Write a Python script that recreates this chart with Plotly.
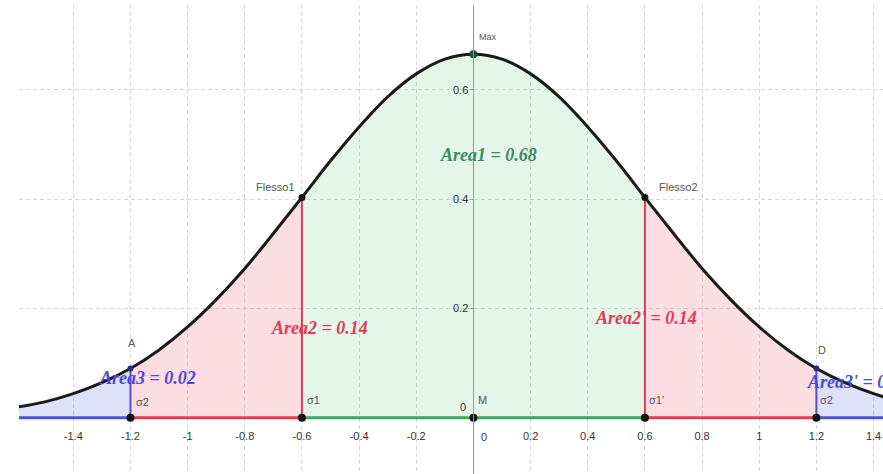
import numpy as np
import plotly.graph_objects as go

# curve (x step 0.1)
curve_x = [-1.6, -1.5, -1.4, -1.3, -1.2, -1.1, -1.0, -0.9, -0.8, -0.7, -0.6,
           -0.5, -0.4, -0.3, -0.2, -0.1, 0.0, 0.1, 0.2, 0.3, 0.4, 0.5,
           0.6, 0.7, 0.8, 0.9, 1.0, 1.1, 1.2, 1.3, 1.4, 1.5]
curve_y = [0.019, 0.029, 0.044, 0.064, 0.090, 0.124, 0.166, 0.216, 0.273, 0.337, 0.403,
           0.470, 0.532, 0.587, 0.629, 0.656, 0.665, 0.656, 0.629, 0.587, 0.532, 0.470,
           0.403, 0.337, 0.273, 0.216, 0.166, 0.124, 0.090, 0.064, 0.044, 0.029]

# region limits on the x axis (sigma multiples) and their areas
region_lo = [-1.6, -1.2, -0.6, 0.6, 1.2]
region_hi = [-1.2, -0.6, 0.6, 1.2, 1.5]
area_text = ["Area3 = 0.02", "Area2 = 0.14", "Area1 = 0.68", "Area2' = 0.14", "Area3' = 0.02"]

sigma_x = [-1.2, -0.6, 0.6, 1.2]
sigma_y = [0.090, 0.403, 0.403, 0.090]
sigma_names = ["σ2", "σ1", "σ1'", "σ2"]

x_ticks = [-1.4, -1.2, -1.0, -0.8, -0.6, -0.4, -0.2, 0.2, 0.4, 0.6, 0.8, 1.0, 1.2, 1.4]
x_ticktext = ["-1.4", "-1.2", "-1", "-0.8", "-0.6", "-0.4", "-0.2", "0.2", "0.4", "0.6", "0.8", "1", "1.2", "1.4"]
y_ticks = [0.2, 0.4, 0.6]
y_ticktext = ["0.2", "0.4", "0.6"]

BLUE = "#5050d4"
RED = "#e03c5a"
GREEN = "#3aa85a"
fill_cols = ["rgba(95,105,225,0.2)", "rgba(235,85,110,0.2)", "rgba(115,210,140,0.2)",
             "rgba(235,85,110,0.2)", "rgba(95,105,225,0.2)"]
line_cols = [BLUE, RED, GREEN, RED, BLUE]

cx = np.array(curve_x)
cy = np.array(curve_y)

fig = go.Figure()

# shaded areas under the curve
for lo, hi, fc in zip(region_lo, region_hi, fill_cols):
    m = (cx >= lo - 1e-9) & (cx <= hi + 1e-9)
    fig.add_trace(go.Scatter(x=cx[m], y=cy[m], mode="lines", fill="tozeroy",
                             fillcolor=fc, line=dict(width=0, shape="spline"),
                             hoverinfo="skip"))

# coloured pieces of the x axis
for lo, hi, lc in zip(region_lo, region_hi, line_cols):
    fig.add_trace(go.Scatter(x=[lo, hi], y=[0, 0], mode="lines",
                             line=dict(color=lc, width=3), hoverinfo="skip"))

# vertical segments at the sigma points
for sx, sy, lc in zip(sigma_x, sigma_y, [BLUE, RED, RED, BLUE]):
    fig.add_trace(go.Scatter(x=[sx, sx], y=[0, sy], mode="lines",
                             line=dict(color=lc, width=2), hoverinfo="skip"))

# the curve
fig.add_trace(go.Scatter(x=curve_x, y=curve_y, mode="lines",
                         line=dict(color="#1a1a1a", width=3, shape="spline")))

# points
fig.add_trace(go.Scatter(x=sigma_x + [0.0], y=[0] * 5, mode="markers",
                         marker=dict(color="#111", size=8)))
fig.add_trace(go.Scatter(x=[sigma_x[1], sigma_x[2]], y=[sigma_y[1], sigma_y[2]], mode="markers",
                         marker=dict(color="#111", size=7)))
fig.add_trace(go.Scatter(x=[sigma_x[0], sigma_x[3]], y=[sigma_y[0], sigma_y[3]], mode="markers",
                         marker=dict(color="#2a2a70", size=6)))
fig.add_trace(go.Scatter(x=[0.0], y=[max(curve_y)], mode="markers",
                         marker=dict(color="#1d4a3c", size=8)))

small = dict(family="Liberation Sans", size=11, color="#555")
serif = "Liberation Serif"

def note(x, y, text, font, **kw):
    fig.add_annotation(x=x, y=y, text=text, showarrow=False, font=font, **kw)

note(-0.691, 0.422, "Flesso1", small)
note(0.719, 0.422, "Flesso2", small)
note(0.051, 0.696, "Max", dict(family="Liberation Sans", size=9, color="#555"))
note(-1.195, 0.136, "A", small)
note(1.221, 0.123, "D", small)
note(-1.157, 0.028, sigma_names[0], small)
note(-0.561, 0.032, sigma_names[1], small)
note(0.642, 0.032, sigma_names[2], small)
note(1.237, 0.032, sigma_names[3], small)
note(0.030, 0.032, "M", small)
note(-0.037, 0.019, "0", dict(family="Liberation Sans", size=11, color="#333"))
note(0.037, -0.036, "0", dict(family="Liberation Sans", size=11, color="#333"))

def area(x, y, text, color, **kw):
    note(x, y, "<b><i>" + text + "</i></b>", dict(family=serif, size=18, color=color), **kw)

area(0.054, 0.480, area_text[2], "#3b8a60")
area(-0.537, 0.164, area_text[1], "#e03a56")
area(0.604, 0.182, area_text[3], "#e03a56")
area(-1.139, 0.072, area_text[0], "#4a4ad8")
area(1.160, 0.065, area_text[4], "#4a4ad8", xanchor="left")

fig.update_xaxes(range=[-1.590, 1.433], anchor="free", position=0.120,
                 tickvals=x_ticks, ticktext=x_ticktext,
                 tickfont=dict(family="Liberation Sans", size=11, color="#333"),
                 ticks="outside", ticklen=8, tickcolor="rgba(0,0,0,0)",
                 showline=False, zeroline=False,
                 showgrid=True, gridcolor="#d8d8d8", gridwidth=1, griddash="4px,3px")
fig.update_yaxes(range=[-0.103, 0.755], anchor="free", position=0.526,
                 tickvals=y_ticks, ticktext=y_ticktext,
                 tickfont=dict(family="Liberation Sans", size=11, color="#333"),
                 ticks="outside", ticklen=3, tickcolor="#999",
                 showline=True, linecolor="#999", linewidth=1, zeroline=False,
                 showgrid=True, gridcolor="#d8d8d8", gridwidth=1, griddash="4px,3px")

fig.update_layout(width=883, height=474, margin=dict(l=19, r=0, t=5, b=0),
                  plot_bgcolor="white", paper_bgcolor="white", showlegend=False)

fig.write_html("out.html", config={"displayModeBar": False},
               post_script="document.body.style.margin='0';")
